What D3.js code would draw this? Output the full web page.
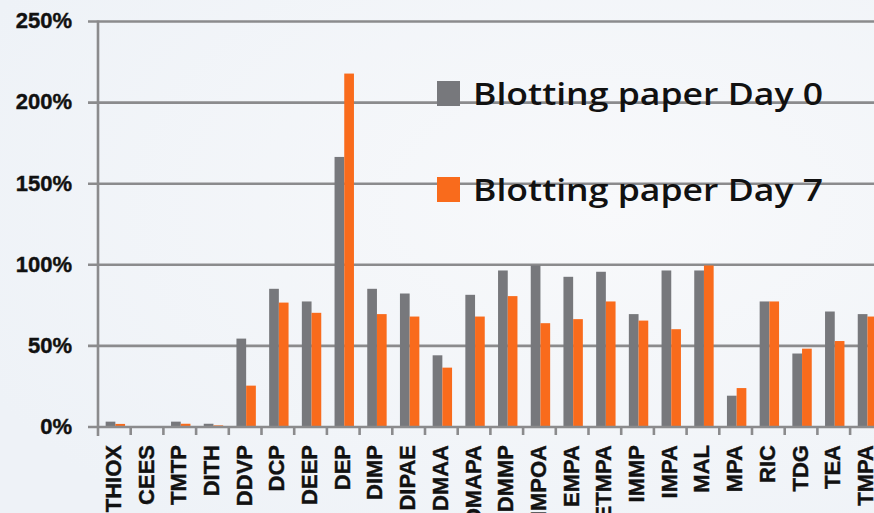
<!DOCTYPE html>
<html>
<head>
<meta charset="utf-8">
<script src="https://cdn.jsdelivr.net/npm/d3@7"></script>
<style>
  html, body { margin: 0; padding: 0; background: #f3f6f9; }
  svg { display: block; }
</style>
</head>
<body>
<svg id="chart" width="874" height="513"></svg>
<script>
// Agent recovery on blotting paper, relative to reference (%)
const categories = ["THIOX", "CEES", "TMTP", "DITH", "DDVP", "DCP", "DEEP", "DEP", "DIMP", "DIPAE",
  "DMAA", "DMAPA", "DMMP", "IMPOA", "EMPA", "ETMPA", "IMMP", "IMPA", "MAL", "MPA", "RIC", "TDG", "TEA", "TMPA"];
const day0 = [3.3, 0, 3.3, 2, 54.5, 85.2, 77.4, 166.5, 85.2, 82.3,
  44.2, 81.5, 96.5, 99.6, 92.6, 95.7, 69.6, 96.5, 96.5, 19.3, 77.4, 45.3, 71.2, 69.6];
const day7 = [1.9, 0, 2, 1, 25.5, 76.7, 70.4, 217.9, 69.6, 68.1,
  36.6, 68.1, 80.7, 64, 66.5, 77.4, 65.6, 60.3, 99.6, 24, 77.4, 48.3, 53, 68.1];
const seriesNames = ["Blotting paper Day 0", "Blotting paper Day 7"];
const seriesColors = ["#77787c", "#f96b1c"];
const yTicks = [0, 50, 100, 150, 200, 250];

const svg = d3.select("#chart");
const W = 874, H = 513;

// soft background wash
const defs = svg.append("defs");
const grad = defs.append("radialGradient").attr("id", "bg").attr("cx", "70%").attr("cy", "40%").attr("r", "80%");
grad.append("stop").attr("offset", "0%").attr("stop-color", "#f8f9fb");
grad.append("stop").attr("offset", "100%").attr("stop-color", "#eef2f7");
svg.append("rect").attr("width", W).attr("height", H).attr("fill", "url(#bg)");

const plotLeft = 98, plotBottom = 427, plotTop = 21.5;
const step = 32.7;
const x = d3.scaleBand().domain(categories).range([plotLeft, plotLeft + step * categories.length]).padding(0);
const y = d3.scaleLinear().domain([0, 250]).range([plotBottom, plotTop]);
const x1 = d3.scaleBand().domain([0, 1]).range([1, x.bandwidth() + 1]).paddingInner(0).paddingOuter(0.685);

const gridColor = "#8b8b8d";

// horizontal gridlines with left ticks
svg.append("g").selectAll("line").data(yTicks.filter(d => d > 0)).join("line")
  .attr("x1", 88).attr("x2", W + 20)
  .attr("y1", d => y(d)).attr("y2", d => y(d))
  .attr("stroke", gridColor).attr("stroke-width", 2.6);

// y tick labels
svg.append("g").selectAll("text").data(yTicks).join("text")
  .attr("x", 72).attr("y", d => y(d) + 1)
  .attr("text-anchor", "end").attr("dominant-baseline", "middle")
  .attr("font-family", "Liberation Sans, Arial, sans-serif").attr("font-weight", "bold")
  .attr("font-size", 22).attr("fill", "#111")
  .attr("stroke", "#111").attr("stroke-width", 0.4)
  .text(d => d + "%");

// bars
const data = categories.map((c, i) => ({ c, vals: [day0[i], day7[i]] }));
const groups = svg.append("g").selectAll("g").data(data).join("g")
  .attr("transform", d => `translate(${x(d.c)},0)`);
groups.selectAll("rect").data(d => d.vals.map((v, k) => ({ v, k }))).join("rect")
  .attr("x", d => x1(d.k)).attr("width", x1.bandwidth())
  .attr("y", d => y(d.v)).attr("height", d => plotBottom - y(d.v))
  .attr("fill", d => seriesColors[d.k]);

// x axis line, y axis line and category ticks
svg.append("line").attr("x1", 88).attr("x2", W + 20).attr("y1", plotBottom).attr("y2", plotBottom)
  .attr("stroke", gridColor).attr("stroke-width", 2.6);
svg.append("line").attr("x1", plotLeft).attr("x2", plotLeft).attr("y1", plotTop - 1).attr("y2", plotBottom + 9)
  .attr("stroke", gridColor).attr("stroke-width", 2.6);
const boundaries = categories.map(c => x(c) + x.step());
svg.append("g").selectAll("line").data(boundaries).join("line")
  .attr("x1", d => d).attr("x2", d => d).attr("y1", plotBottom).attr("y2", plotBottom + 8)
  .attr("stroke", gridColor).attr("stroke-width", 2.6);

// rotated category labels (run off the bottom edge)
svg.append("g").selectAll("text").data(categories).join("text")
  .attr("transform", c => `translate(${x(c) + x.bandwidth() / 2 + 6.5},445) rotate(-90)`)
  .attr("text-anchor", "end")
  .attr("font-family", "Liberation Sans, Arial, sans-serif").attr("font-weight", "bold")
  .attr("font-size", 22).attr("fill", "#111")
  .attr("stroke", "#111").attr("stroke-width", 0.4)
  .text(c => c);

// legend
const legend = svg.append("g").selectAll("g").data(seriesNames).join("g")
  .attr("transform", (d, i) => `translate(437,${81 + i * 96})`);
legend.append("rect").attr("width", 23).attr("height", 25)
  .attr("fill", (d, i) => seriesColors[i]);
legend.append("text").attr("x", 36).attr("y", 24)
  .attr("font-family", "Open Sans, sans-serif").attr("font-weight", 600)
  .attr("font-size", 31).attr("fill", "#111")
  .attr("textLength", 350).attr("lengthAdjust", "spacingAndGlyphs")
  .text(d => d);
</script>
</body>
</html>
